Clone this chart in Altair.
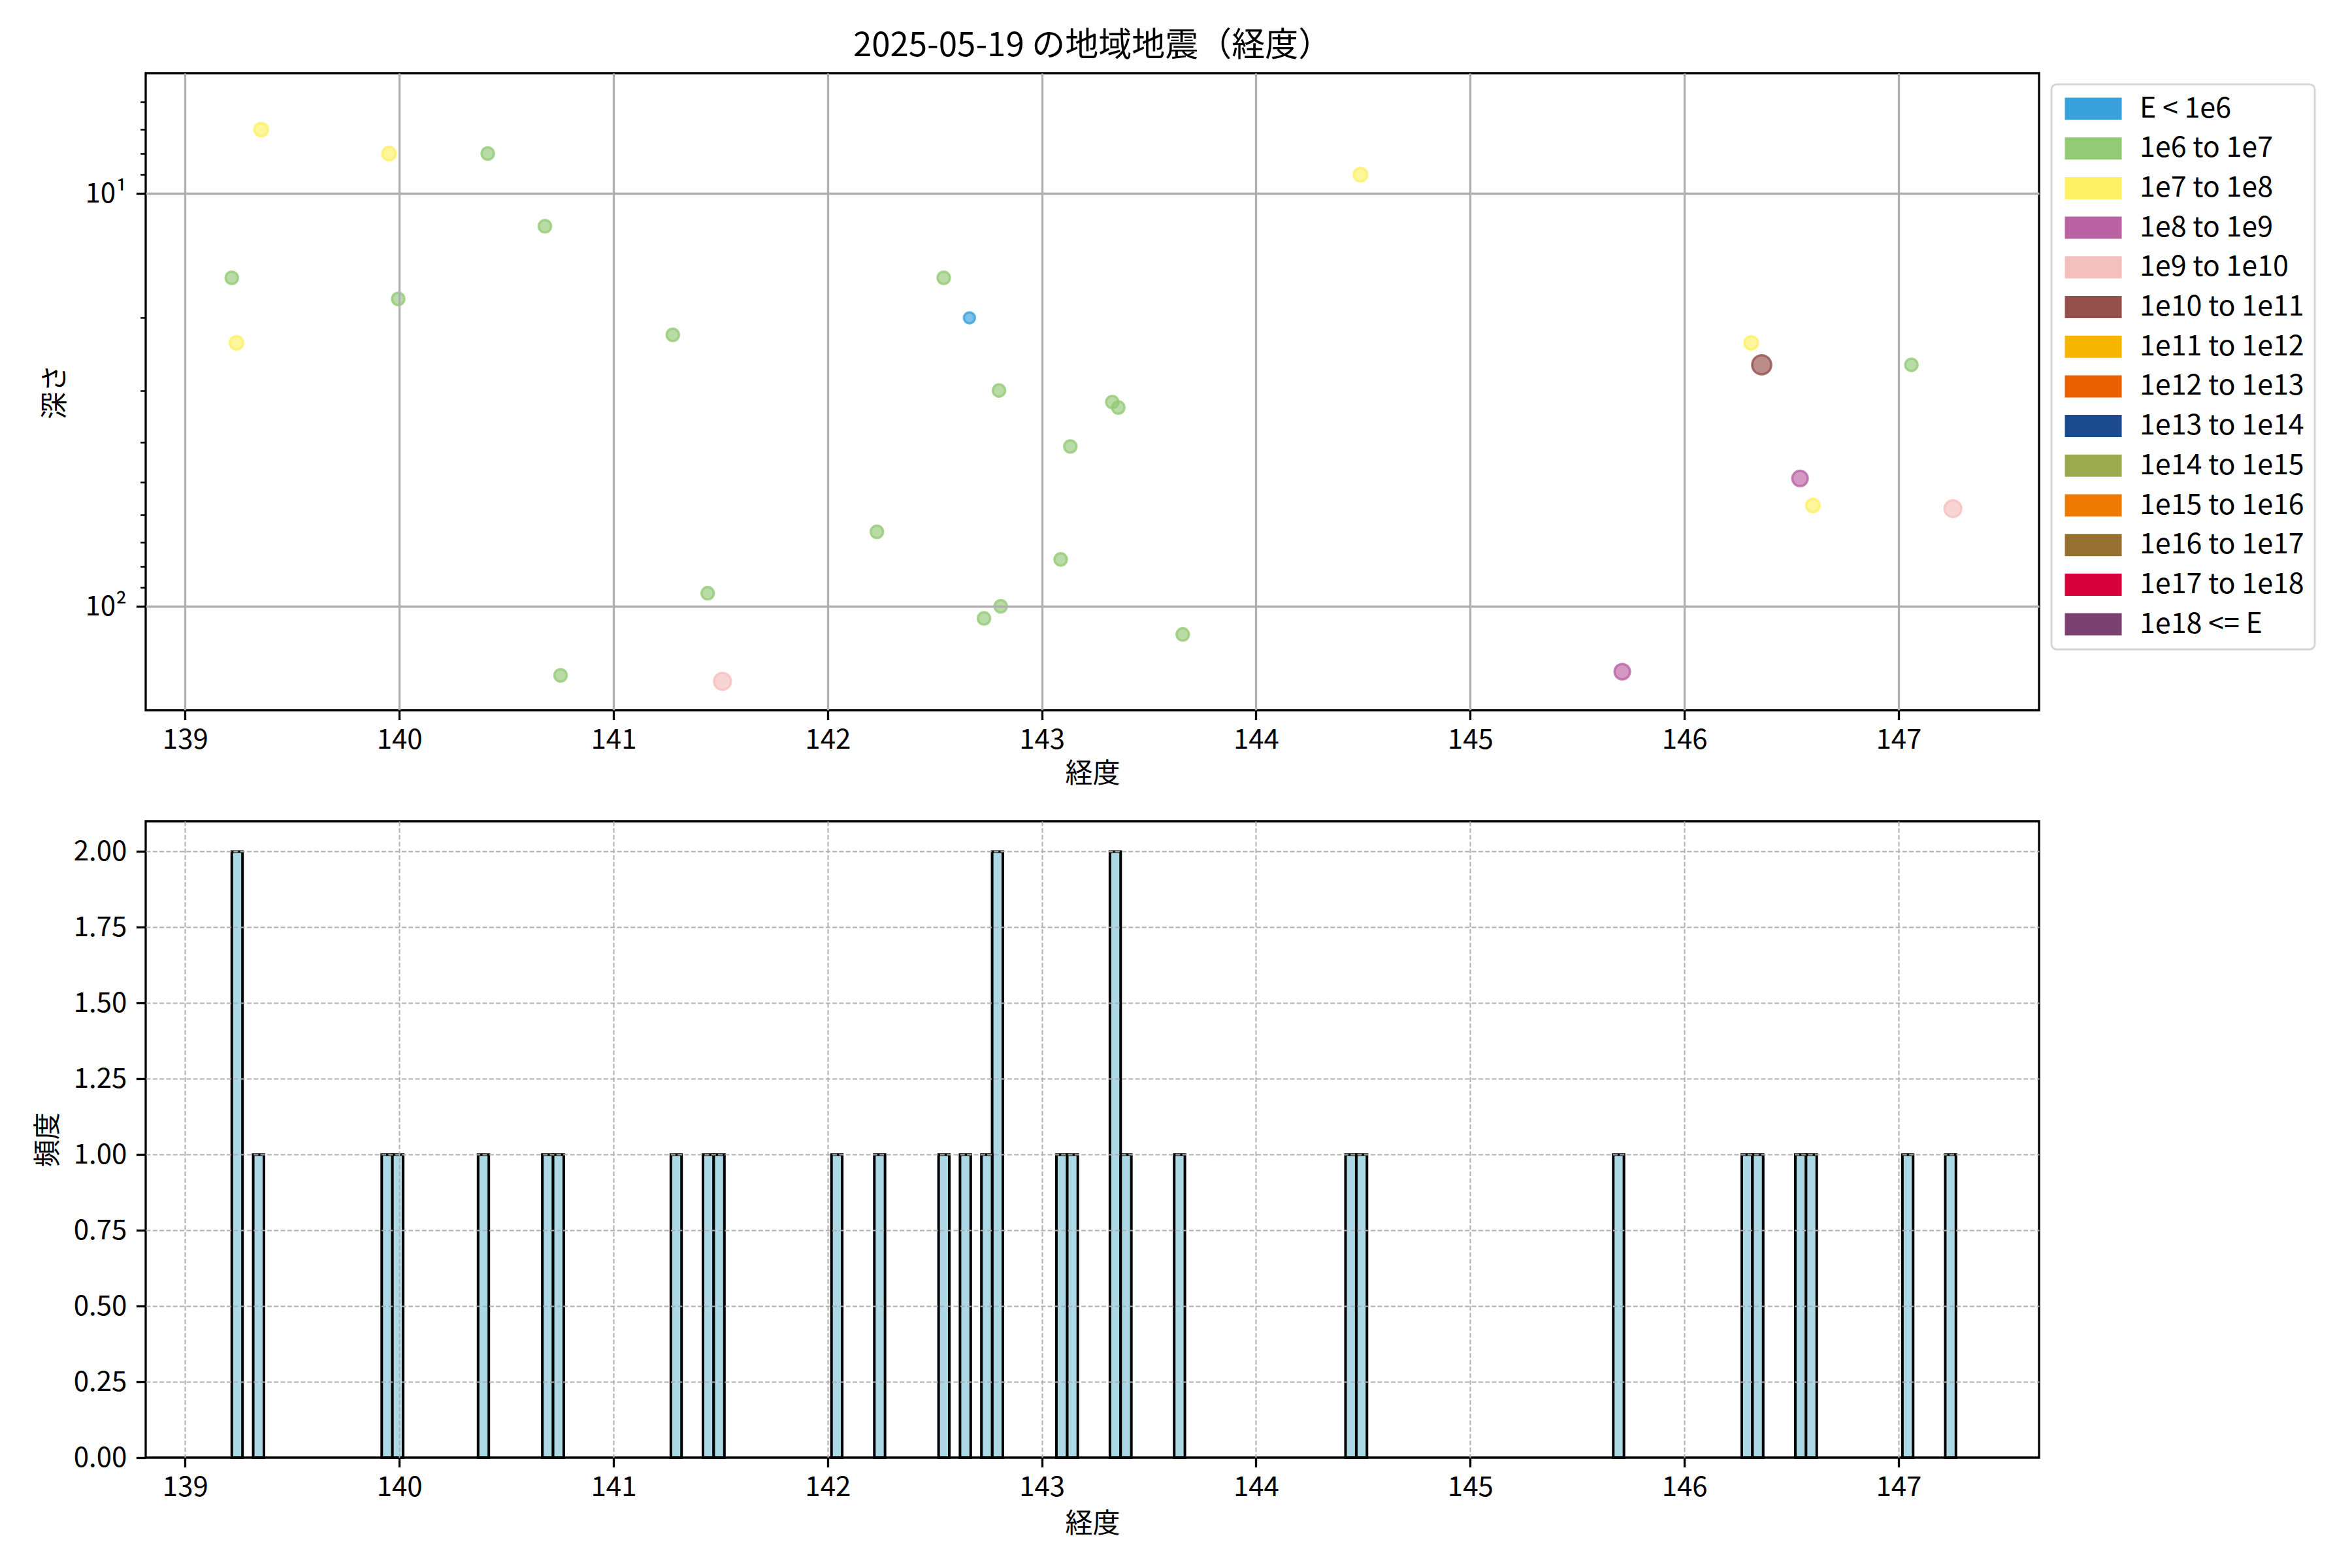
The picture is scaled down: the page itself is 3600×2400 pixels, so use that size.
import altair as alt
import pandas as pd

FONT = "Noto Sans CJK JP"

# energy classes (legend) and their colours
classes = ["E < 1e6", "1e6 to 1e7", "1e7 to 1e8", "1e8 to 1e9", "1e9 to 1e10",
           "1e10 to 1e11", "1e11 to 1e12", "1e12 to 1e13", "1e13 to 1e14",
           "1e14 to 1e15", "1e15 to 1e16", "1e16 to 1e17", "1e17 to 1e18", "1e18 <= E"]
colors = ["#38A1DB", "#93CA76", "#FFF064", "#BB63A2", "#F5BFBD", "#95504C", "#F7B500",
          "#EB6101", "#1B4A8F", "#9BAA4F", "#EE7800", "#95702F", "#D7003A", "#7A4171"]
marker_sizes = [290, 360, 430, 560, 660, 850, 950, 1050, 1150, 1250, 1350, 1450, 1550, 1650]

# events (longitude, depth, energy class)
lon = [139.355, 139.952, 140.413, 140.680, 139.218, 139.995, 139.240, 141.277,
       142.542, 142.662, 142.800, 142.230, 141.440, 142.808, 142.730, 140.753,
       141.509, 143.329, 143.357, 143.133, 143.088, 143.658, 144.488, 145.710,
       146.312, 146.361, 147.060, 146.540, 146.600, 147.254]
depth = [7.0, 8.0, 8.0, 12.0, 16.0, 18.0, 23.0, 22.0,
         16.0, 20.0, 30.0, 66.0, 93.0, 100.0, 107.0, 147.0,
         152.0, 32.0, 33.0, 41.0, 77.0, 117.0, 9.0, 144.0,
         23.0, 26.0, 26.0, 49.0, 57.0, 58.0]
energy = ["1e7 to 1e8", "1e7 to 1e8", "1e6 to 1e7", "1e6 to 1e7", "1e6 to 1e7", "1e6 to 1e7",
          "1e7 to 1e8", "1e6 to 1e7", "1e6 to 1e7", "E < 1e6", "1e6 to 1e7", "1e6 to 1e7",
          "1e6 to 1e7", "1e6 to 1e7", "1e6 to 1e7", "1e6 to 1e7", "1e9 to 1e10", "1e6 to 1e7",
          "1e6 to 1e7", "1e6 to 1e7", "1e6 to 1e7", "1e6 to 1e7", "1e7 to 1e8", "1e8 to 1e9",
          "1e7 to 1e8", "1e10 to 1e11", "1e6 to 1e7", "1e8 to 1e9", "1e7 to 1e8", "1e9 to 1e10"]
# events counted in the histogram but not drawn on the log-depth panel
extra_lon = [142.040, 143.390, 144.440]

x_ticks = [139, 140, 141, 142, 143, 144, 145, 146, 147]
x_domain = [138.816, 147.656]
depth_ticks = [6, 7, 8, 9, 10, 20, 30, 40, 50, 60, 70, 80, 90, 100]
depth_domain = [5.11, 178.5]
count_ticks = [0, 0.25, 0.5, 0.75, 1.0, 1.25, 1.5, 1.75, 2.0]
count_domain = [0, 2.1]
BIN_START = 139.218
BIN_STEP = 0.05

scatter_df = pd.DataFrame({"経度": lon, "深さ": depth, "class": energy})
hist_df = pd.DataFrame({"経度": lon + extra_lon})
legend_df = pd.DataFrame({"class": classes})

W = 2898
H_TOP = 975
H_BOT = 974
TICK = 14.6
LW = 3.3

MAJOR = "datum.value === 10 || datum.value === 100"
LEGEND_PATH = "M-1,-1H4.12V1H-1Z"

x_axis_top = alt.Axis(values=x_ticks, format="d", title="経度", grid=True,
                      gridColor="#b0b0b0", gridWidth=LW, tickSize=TICK, tickWidth=LW,
                      labelPadding=11, titlePadding=11, zindex=1)
y_axis_top = alt.Axis(values=depth_ticks, title="深さ",
                      labelExpr="datum.value === 10 ? '10¹' : (datum.value === 100 ? '10²' : '')",
                      tickSize={"condition": {"test": MAJOR, "value": TICK}, "value": 8.3},
                      tickWidth={"condition": {"test": MAJOR, "value": LW}, "value": 2.5},
                      gridOpacity={"condition": {"test": MAJOR, "value": 1}, "value": 0},
                      grid=True, gridColor="#b0b0b0", gridWidth=LW,
                      labelPadding=TICK, labelOverlap=False,
                      minExtent=100, maxExtent=100, titlePadding=17, zindex=1)

points = alt.Chart(scatter_df).mark_circle(
    opacity=1, fillOpacity=0.65, strokeOpacity=0.8, strokeWidth=3.5
).encode(
    x=alt.X("経度:Q", scale=alt.Scale(domain=x_domain, nice=False, zero=False), axis=x_axis_top),
    y=alt.Y("深さ:Q", scale=alt.Scale(type="log", domain=depth_domain, reverse=True, nice=False),
            axis=y_axis_top),
    color=alt.Color("class:N", scale=alt.Scale(domain=classes, range=colors), legend=None),
    stroke=alt.Stroke("class:N", scale=alt.Scale(domain=classes, range=colors), legend=None),
    size=alt.Size("class:N", scale=alt.Scale(type="ordinal", domain=classes, range=marker_sizes),
                  legend=None),
)

legend_layer = alt.Chart(legend_df).transform_filter("false").mark_square().encode(
    color=alt.Color("class:N", scale=alt.Scale(domain=classes, range=colors),
                    legend=alt.Legend(title=None, orient="none", legendX=2917, legendY=17,
                                      direction="vertical", symbolType=LEGEND_PATH,
                                      symbolSize=1156, symbolStrokeWidth=0, symbolOpacity=1,
                                      labelFontSize=43, labelFont=FONT, labelLimit=600,
                                      labelOffset=76, rowPadding=16.7, padding=16,
                                      strokeColor="#d6d6d6", fillColor="white",
                                      cornerRadius=8)),
)

top = alt.layer(points, legend_layer).resolve_scale(
    color="independent"
).resolve_legend(
    color="independent"
).properties(
    width=W, height=H_TOP,
    title=alt.TitleParams("2025-05-19 の地域地震（経度）", fontSize=51, font=FONT,
                          fontWeight="normal", anchor="middle", offset=15, color="black"),
)

x_axis_bot = alt.Axis(values=x_ticks, format="d", title="経度", grid=True,
                      gridColor="#b0b0b0", gridWidth=2, gridDash=[7, 3.3],
                      tickSize=TICK, tickWidth=LW, labelPadding=11, titlePadding=15, zindex=1)
y_axis_bot = alt.Axis(values=count_ticks, format=".2f", title="頻度", grid=True,
                      gridColor="#b0b0b0", gridWidth=2, gridDash=[7, 3.3],
                      gridOpacity={"condition": {"test": "datum.value === 0", "value": 0},
                                   "value": 1},
                      tickSize=TICK, tickWidth=LW, labelPadding=TICK,
                      minExtent=110, maxExtent=110, titlePadding=18, zindex=1)

bottom = alt.Chart(hist_df).transform_calculate(
    b0=f"{BIN_START} + floor((datum['経度'] - {BIN_START}) / {BIN_STEP}) * {BIN_STEP}"
).transform_aggregate(
    n="count()", groupby=["b0"]
).transform_calculate(
    b1=f"datum.b0 + {BIN_STEP}"
).mark_bar(fill="#ADD8E6", stroke="black", strokeWidth=4).encode(
    x=alt.X("b0:Q", scale=alt.Scale(domain=x_domain, nice=False, zero=False), axis=x_axis_bot),
    x2="b1:Q",
    y=alt.Y("n:Q", scale=alt.Scale(domain=count_domain, nice=False), axis=y_axis_bot),
    y2=alt.datum(0),
).properties(width=W, height=H_BOT)

chart = alt.vconcat(top, bottom, spacing=170, bounds="flush").properties(
    padding={"left": 42, "top": 35, "right": 5, "bottom": 5}
).configure(
    font=FONT
).configure_view(
    stroke="black", strokeWidth=LW
).configure_axis(
    domain=False, labelFont=FONT, titleFont=FONT, labelFontSize=42, titleFontSize=42,
    labelColor="black", titleColor="black", tickColor="black", titleFontWeight="normal",
    labelFlush=False
).configure_legend(
    strokeWidth=3
)

chart.save("out.html", embed_options={"renderer": "svg", "actions": False})
